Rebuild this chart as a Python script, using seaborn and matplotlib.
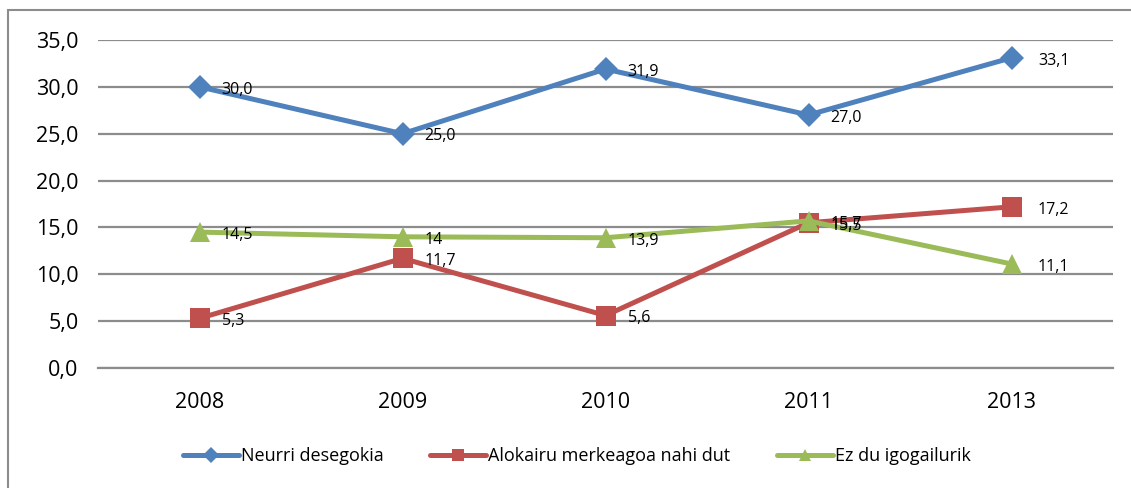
import matplotlib
matplotlib.use("Agg")
import matplotlib.pyplot as plt
import seaborn as sns
import pandas as pd
from matplotlib.patches import Rectangle
from matplotlib.lines import Line2D

years = ["2008", "2009", "2010", "2011", "2013"]
neurri = [30.0, 25.0, 31.9, 27.0, 33.1]
alokairu = [5.3, 11.7, 5.6, 15.5, 17.2]
igogailu = [14.5, 14.0, 13.9, 15.7, 11.1]
igogailu_labels = ["14,5", "14", "13,9", "15,7", "11,1"]

series_names = ["Neurri desegokia", "Alokairu merkeagoa nahi dut", "Ez du igogailurik"]
colors = ["#4F81BD", "#C0504D", "#9BBB59"]
markers = ["D", "s", "^"]
msizes = [12, 14, 14]

sns.set_theme(style="white")
plt.rcParams["font.family"] = ["Open Sans", "DejaVu Sans"]
plt.rcParams["text.color"] = "black"
plt.rcParams["xtick.color"] = "black"
plt.rcParams["ytick.color"] = "black"

rows = []
for name, vals in zip(series_names, [neurri, alokairu, igogailu]):
    for i, (y, v) in enumerate(zip(years, vals)):
        rows.append({"pos": i, "year": y, "value": v, "serie": name})
df = pd.DataFrame(rows)

fig = plt.figure(figsize=(11.31, 4.88), dpi=100)
ax = fig.add_axes([98 / 1131, 1 - 368 / 488, 1015 / 1131, 328 / 488])

# outer chart border
fig.patches.append(Rectangle((8 / 1131, -0.05), 1.1, 1.05 - 10 / 488,
                             transform=fig.transFigure, fill=False,
                             edgecolor="#8c8c8c", linewidth=1.5))

for name, col, mk, ms in zip(series_names, colors, markers, msizes):
    sub = df[df["serie"] == name]
    sns.lineplot(data=sub, x="pos", y="value", ax=ax, color=col, linewidth=3.6,
                 marker=mk, markersize=ms, markeredgewidth=0, legend=False,
                 zorder=3)

# value labels
label_sets = [
    [f"{v:.1f}".replace(".", ",") for v in neurri],
    [f"{v:.1f}".replace(".", ",") for v in alokairu],
    igogailu_labels,
]
for vals, labs in zip([neurri, alokairu, igogailu], label_sets):
    for i, (v, lab) in enumerate(zip(vals, labs)):
        dx = 16 if i < 4 else 19
        ax.annotate(lab, (i, v), xytext=(dx, -2), textcoords="offset points",
                    ha="left", va="center", fontsize=11.5, color="black", zorder=4)

ax.set_xlim(-0.5, 4.5)
ax.set_ylim(0, 35)
ax.set_yticks([0, 5, 10, 15, 20, 25, 30, 35])
ax.set_yticklabels([f"{t:.1f}".replace(".", ",") for t in range(0, 40, 5)])
ax.set_xticks(range(len(years)))
ax.set_xticklabels(years)
ax.tick_params(axis="y", length=0, pad=14, labelsize=15.5)
ax.tick_params(axis="x", length=0, pad=17, labelsize=15.5)
ax.set_xlabel("")
ax.set_ylabel("")
ax.grid(axis="y", color="#8c8c8c", linewidth=1.6)
ax.grid(axis="x", visible=False)
for s in ["top", "right", "left"]:
    ax.spines[s].set_visible(False)
ax.spines["bottom"].set_color("#8c8c8c")
ax.spines["bottom"].set_linewidth(1.6)
ax.set_axisbelow(True)

handles = [Line2D([0], [0], color=c, linewidth=3.6, marker=m, markersize=s * 0.65,
                  markeredgewidth=0)
           for c, m, s in zip(colors, markers, msizes)]
fig.legend(handles, series_names, loc="center", bbox_to_anchor=(0.51, 1 - 456 / 488),
           ncol=3, frameon=False, fontsize=13, handlelength=3.1, handletextpad=0.1,
           columnspacing=2.6)

fig.savefig("out.png", dpi=100)
